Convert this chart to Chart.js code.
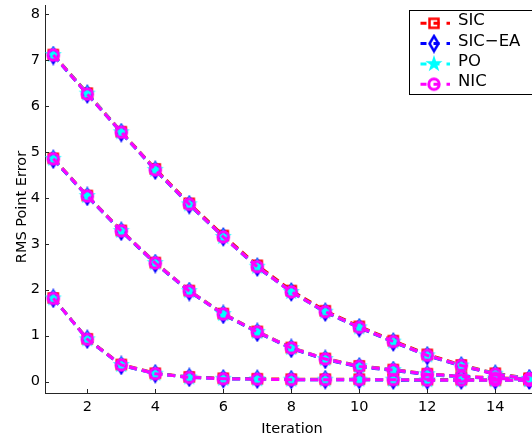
<!DOCTYPE html>
<html><head><meta charset="utf-8">
<script src="https://cdn.jsdelivr.net/npm/chart.js@4"></script>
<style>html,body{margin:0;padding:0;background:#fff}canvas{display:block}</style>
</head><body>
<canvas id="c" width="532" height="438"></canvas>
<script>
// ---- data ----
const iterations = [1,2,3,4,5,6,7,8,9,10,11,12,13,14,15];
const xTicks = [2,4,6,8,10,12,14];
const yTicks = [0,1,2,3,4,5,6,7,8];
const seriesNames = ['SIC','SIC\u2212EA','PO','NIC'];

const sicTop   = [7.12,6.28,5.44,4.63,3.88,3.18,2.53,1.98,1.54,1.20,0.89,0.59,0.36,0.18,0.07];
const sicMid   = [4.86,4.05,3.29,2.59,1.98,1.48,1.09,0.74,0.50,0.34,0.26,0.17,0.11,0.08,0.06];
const sicLow   = [1.82,0.93,0.37,0.18,0.10,0.07,0.06,0.05,0.05,0.05,0.04,0.04,0.04,0.03,0.03];

const sicEaTop = [7.10,6.26,5.42,4.60,3.85,3.15,2.49,1.95,1.51,1.17,0.86,0.56,0.34,0.16,0.05];
const sicEaMid = [4.84,4.03,3.27,2.57,1.96,1.46,1.07,0.72,0.48,0.32,0.24,0.15,0.10,0.07,0.05];
const sicEaLow = [1.81,0.92,0.35,0.17,0.09,0.06,0.05,0.04,0.04,0.04,0.03,0.03,0.03,0.03,0.03];

const poTop    = [7.11,6.27,5.43,4.61,3.86,3.15,2.50,1.95,1.52,1.18,0.87,0.57,0.35,0.17,0.06];
const poMid    = [4.85,4.04,3.28,2.58,1.97,1.47,1.08,0.73,0.49,0.33,0.25,0.16,0.10,0.07,0.05];
const poLow    = [1.81,0.92,0.36,0.17,0.09,0.06,0.05,0.04,0.04,0.04,0.04,0.03,0.03,0.03,0.03];

const nicTop   = [7.11,6.26,5.43,4.61,3.86,3.15,2.50,1.95,1.52,1.18,0.87,0.57,0.35,0.16,0.06];
const nicMid   = [4.85,4.04,3.28,2.58,1.97,1.47,1.08,0.73,0.49,0.33,0.25,0.16,0.11,0.07,0.05];
const nicLow   = [1.81,0.92,0.36,0.17,0.09,0.06,0.05,0.04,0.04,0.04,0.04,0.03,0.03,0.03,0.03];

// ---- marker images ----
function mk(size, draw){ const c=document.createElement('canvas'); c.width=size; c.height=size; const g=c.getContext('2d'); g.translate(size/2,size/2); draw(g); return c; }
const squareImg = mk(16, g=>{ g.strokeStyle='#ff0000'; g.lineWidth=2.5; g.strokeRect(-4.5,-4.5,9,9); });
const diamondImg = mk(20, g=>{ g.strokeStyle='#0000ff'; g.lineWidth=2.5; g.beginPath(); g.moveTo(0,-7.5); g.lineTo(4.5,0); g.lineTo(0,7.5); g.lineTo(-4.5,0); g.closePath(); g.stroke(); });
const starImg = mk(22, g=>{ g.fillStyle='#00ffff'; g.beginPath(); const R=9, r=R*0.382; for(let i=0;i<10;i++){ const a=-Math.PI/2+i*Math.PI/5; const rr=i%2?r:R; const px=rr*Math.cos(a), py=rr*Math.sin(a); i?g.lineTo(px,py):g.moveTo(px,py);} g.closePath(); g.fill(); });
const circleImg = mk(18, g=>{ g.strokeStyle='#ff00ff'; g.lineWidth=3; g.beginPath(); g.arc(0,0,5.2,0,Math.PI*2); g.stroke(); });

const series = [
  {name: seriesNames[0], color:'#ff0000', img:squareImg, order:4, curves:[sicTop,sicMid,sicLow]},
  {name: seriesNames[1], color:'#0000ff', img:diamondImg, order:3, curves:[sicEaTop,sicEaMid,sicEaLow]},
  {name: seriesNames[2], color:'#00ffff', img:starImg, order:2, curves:[poTop,poMid,poLow]},
  {name: seriesNames[3], color:'#ff00ff', img:circleImg, order:1, curves:[nicTop,nicMid,nicLow]}
];

const datasets = [];
series.forEach(s=>{
  s.curves.forEach(arr=>{
    datasets.push({
      label: s.name,
      data: iterations.map((x,i)=>({x:x, y:arr[i]})),
      borderColor: s.color,
      backgroundColor: s.color,
      borderWidth: 3,
      borderDash: [8,5],
      borderCapStyle: 'butt',
      pointStyle: s.img,
      pointRadius: 6,
      pointHoverRadius: 6,
      tension: 0,
      fill: false,
      clip: false,
      order: s.order
    });
  });
});

const FONT = '"DejaVu Sans", sans-serif';
function noPad(s){ s.paddingTop = 0; s.paddingBottom = 0; s.paddingLeft = 0; s.paddingRight = 0; }

const decor = {
  id: 'decor',
  afterDraw(chart){
    const ctx = chart.ctx, a = chart.chartArea, xs = chart.scales.x, ys = chart.scales.y;
    ctx.save();
    // inward tick marks
    ctx.strokeStyle = '#262626'; ctx.lineWidth = 1; ctx.beginPath();
    xTicks.forEach(v=>{ const p=Math.round(xs.getPixelForValue(v))+0.5; ctx.moveTo(p,a.bottom); ctx.lineTo(p,a.bottom-4); });
    yTicks.forEach(v=>{ const p=Math.round(ys.getPixelForValue(v))+0.5; ctx.moveTo(a.left,p); ctx.lineTo(a.left+4,p); });
    ctx.stroke();
    // axis titles
    ctx.fillStyle = '#000';
    ctx.font = '14.5px ' + FONT;
    ctx.textAlign = 'center'; ctx.textBaseline = 'alphabetic';
    ctx.fillText('Iteration', 292, 432.5);
    ctx.save(); ctx.translate(26, 207); ctx.rotate(-Math.PI/2); ctx.fillText('RMS Point Error', 0, 0); ctx.restore();
    // legend box
    const bx = 409.5, by = 10.5, bw = 123, bh = 84;
    ctx.fillStyle = '#fff'; ctx.fillRect(bx, by, bw, bh);
    ctx.strokeStyle = '#000'; ctx.lineWidth = 1; ctx.strokeRect(bx, by, bw, bh);
    series.forEach((s,i)=>{
      const my = 23.3 + i*20.3;
      ctx.save();
      ctx.strokeStyle = s.color; ctx.lineWidth = 3; ctx.setLineDash([6,7]);
      ctx.beginPath(); ctx.moveTo(420.5, my); ctx.lineTo(450, my); ctx.stroke();
      ctx.restore();
      ctx.drawImage(s.img, 434 - s.img.width/2, my - s.img.height/2);
      ctx.fillStyle = '#000'; ctx.font = '16.5px ' + FONT;
      ctx.textAlign = 'left'; ctx.textBaseline = 'middle';
      ctx.fillText(s.name, 458, 21 + i*20.3);
    });
    ctx.restore();
  }
};

new Chart(document.getElementById('c'), {
  type: 'line',
  data: { datasets },
  options: {
    responsive: false,
    animation: false,
    events: [],
    layout: { autoPadding: false, padding: { top: 5, right: 0, left: 0, bottom: 0 } },
    plugins: { legend: { display: false }, tooltip: { enabled: false } },
    scales: {
      x: {
        type: 'linear', min: 0.756, max: 15.08,
        afterBuildTicks: s => { s.ticks = xTicks.map(v=>({value:v})); },
        afterFit: s => { s.height = 45; noPad(s); },
        grid: { display: false, drawTicks: false },
        border: { display: true, color: '#262626', width: 1 },
        ticks: { color: '#000', font: { family: FONT, size: 14.5 }, padding: 6, maxRotation: 0, autoSkip: false }
      },
      y: {
        type: 'linear', min: -0.25, max: 8.2,
        afterBuildTicks: s => { s.ticks = yTicks.map(v=>({value:v})); },
        afterFit: s => { s.width = 45; noPad(s); },
        grid: { display: false, drawTicks: false },
        border: { display: true, color: '#262626', width: 1 },
        ticks: { color: '#000', font: { family: FONT, size: 14.5 }, padding: 5, autoSkip: false }
      }
    }
  },
  plugins: [decor]
});
</script>
</body></html>
